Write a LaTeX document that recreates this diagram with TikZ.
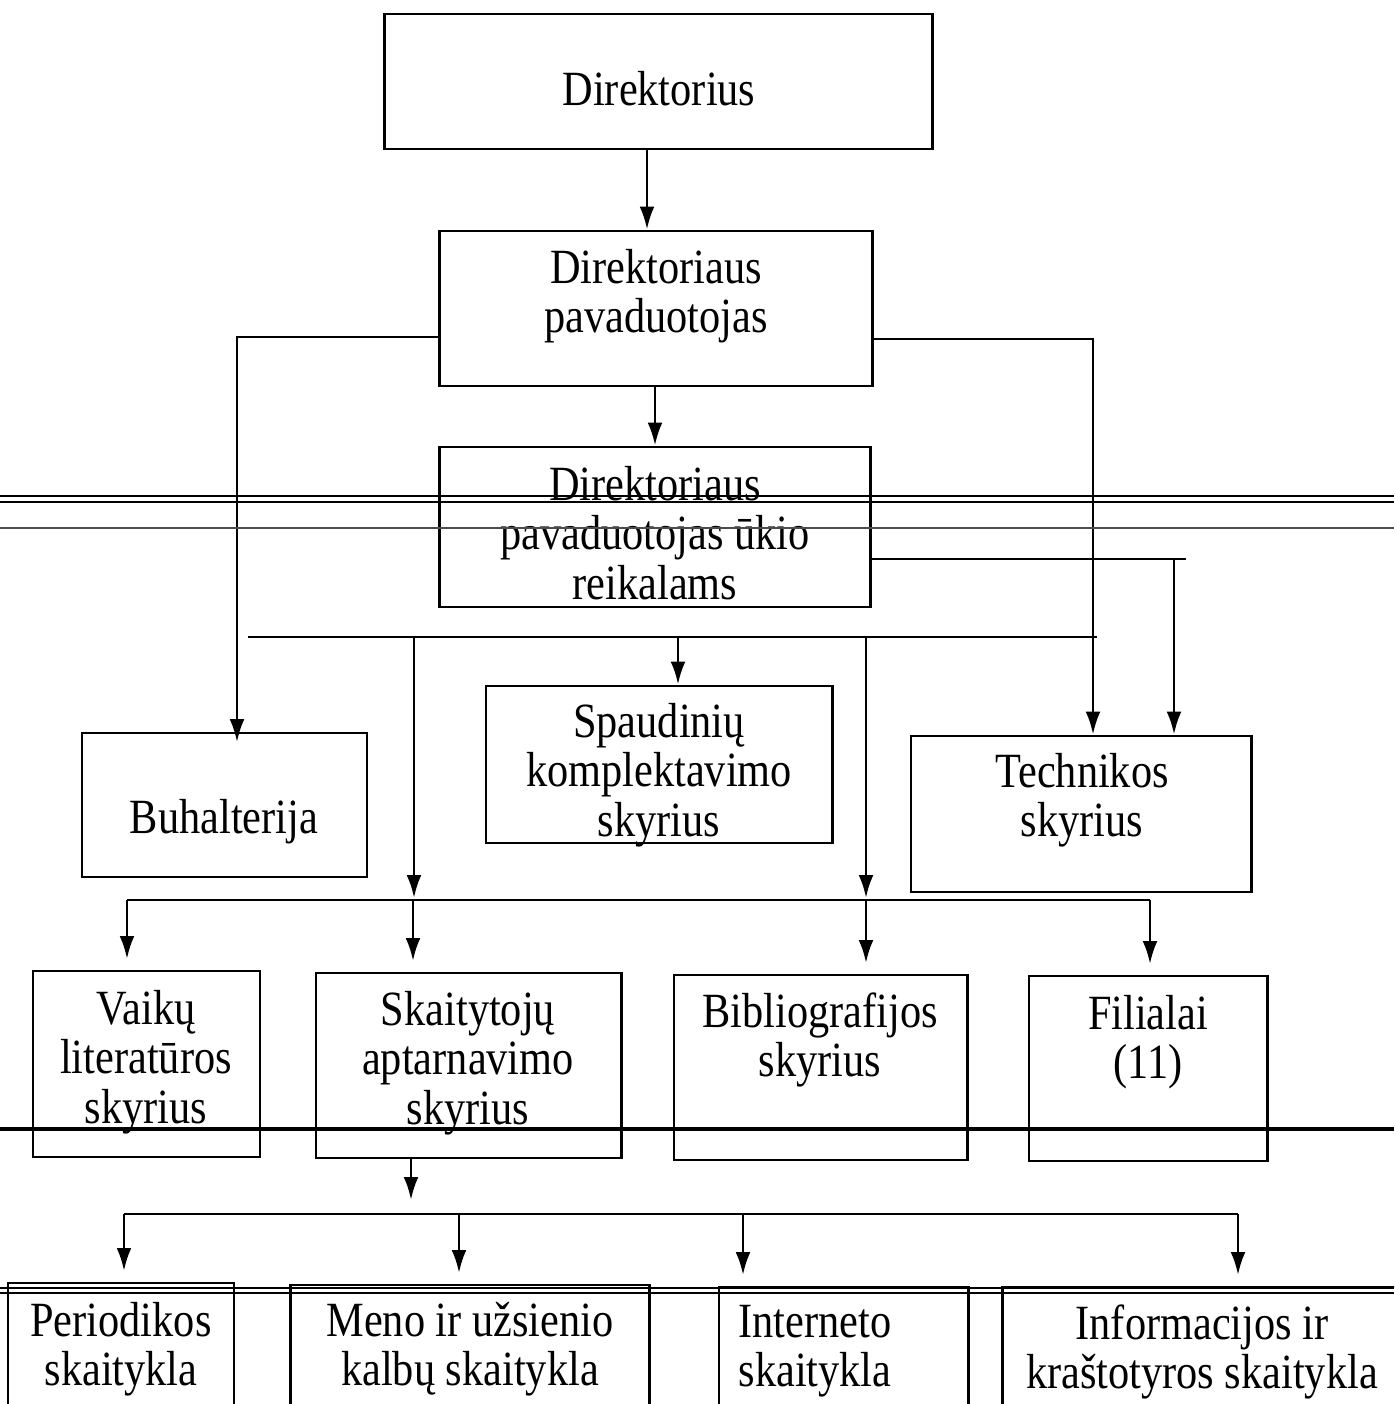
\documentclass[tikz,border=0pt]{standalone}
\usepackage{fontspec}
\setmainfont{Liberation Serif}[FakeStretch=0.86]
\usetikzlibrary{arrows.meta}
\begin{document}
\begin{tikzpicture}[x=0.01cm,y=-0.01cm,
  box/.style={draw, line width=0.8pt, inner sep=0pt},
  txt/.style={align=center, inner sep=0pt, font=\fontsize{14}{14}\selectfont},
  conn/.style={line width=0.8pt},
  arr/.style={line width=0.8pt, -{Latex[length=6.5pt,width=4.2pt]}},
  scan/.style={line width=0.6pt}]
\useasboundingbox (0,0) rectangle (1394,1404);
\clip (0,0) rectangle (1394,1404);
\fill[white] (0,0) rectangle (1394,1404);
% boxes
\node[box, minimum width=5.47cm, minimum height=1.35cm] (dir) at (658.5,81.5) {};
\node[box, minimum width=4.32cm, minimum height=1.55cm] (pav) at (656,308.5) {};
\node[box, minimum width=4.30cm, minimum height=1.60cm] (ukio) at (655,527) {};
\node[box, minimum width=2.85cm, minimum height=1.44cm] (buh) at (224.5,805) {};
\node[box, minimum width=3.46cm, minimum height=1.57cm] (spaud) at (659,764.5) {};
\node[box, minimum width=3.40cm, minimum height=1.56cm] (tech) at (1081,814) {};
\node[box, minimum width=2.27cm, minimum height=1.86cm] (vaik) at (146.5,1064) {};
\node[box, minimum width=3.05cm, minimum height=1.85cm] (skait) at (468.5,1065.5) {};
\node[box, minimum width=2.93cm, minimum height=1.85cm] (bibl) at (820.5,1067.5) {};
\node[box, minimum width=2.38cm, minimum height=1.85cm] (fil) at (1148,1068.5) {};
\node[box, minimum width=2.26cm, minimum height=1.47cm] (per) at (121,1356.5) {};
\node[box, minimum width=3.58cm, minimum height=1.45cm] (meno) at (470,1357.5) {};
\node[box, minimum width=2.49cm, minimum height=1.43cm] (int) at (843.5,1358.5) {};
\node[box, minimum width=4.07cm, minimum height=1.43cm] (info) at (1206.5,1358.5) {};
% texts
\node[txt] (dirT) at (659,89) {Direktorius};
\node[txt] (pavT) at (656,296) {Direktoriaus\\pavaduotojas};
\node[txt] (ukioT) at (655,533) {Direktoriaus\\pavaduotojas ūkio\\reikalams};
\node[txt] (buhT) at (224,822) {Buhalterija};
\node[txt] (spaudT) at (659,775) {Spaudinių\\komplektavimo\\skyrius};
\node[txt] (techT) at (1082,800) {Technikos\\skyrius};
\node[txt] (vaikT) at (146,1062) {Vaikų\\literatūros\\skyrius};
\node[txt] (skaitT) at (468,1063) {Skaitytojų\\aptarnavimo\\skyrius};
\node[txt] (biblT) at (820,1040) {Bibliografijos\\skyrius};
\node[txt] (filT) at (1148,1042) {Filialai\\(11)};
\node[txt] (perT) at (121,1349) {Periodikos\\skaitykla};
\node[txt] (menoT) at (470,1349) {Meno ir užsienio\\kalbų skaitykla};
\node[txt] (intT) at (815,1351) {Interneto\\skaitykla};
\node[txt] (infoT) at (1202,1352) {Informacijos ir\\kraštotyros skaitykla};
% bus coordinates
\coordinate (busA1) at (248,637);
\coordinate (busA2) at (1097,637);
\coordinate (busB1) at (127,900);
\coordinate (busB2) at (1150,900);
\coordinate (ukR) at (1186,559);
\coordinate (skEnd) at (411,1200);
\coordinate (busC1) at (124,1214);
\coordinate (busC2) at (1238,1214);
% connectors
\draw[arr] (dir.south -| 647,0) -- (647,0 |- pav.north);
\draw[arr] (655,0 |- pav.south) -- (655,0 |- ukio.north);
\draw[arr, shorten >=-3pt] (pav.west |- 0,337) -| (237,0 |- buh.north);
\draw[arr] (pav.east |- 0,339) -| (1093,0 |- tech.north);
\draw[conn] (ukio.east |- 0,559) -- (ukR);
\draw[arr] (1174,559) -- (1174,0 |- tech.north);
\draw[conn] (busA1) -- (busA2);
\draw[arr] (678,637) -- (678,0 |- spaud.north);
\draw[arr] (414,637) -- (414,898);
\draw[arr] (866,637) -- (866,898);
\draw[conn] (busB1) -- (busB2);
\draw[arr, shorten >=3pt] (busB1) -- (127,0 |- vaik.north);
\draw[arr, shorten >=3pt] (413,900) -- (413,0 |- skait.north);
\draw[arr, shorten >=3pt] (866,900) -- (866,0 |- bibl.north);
\draw[arr, shorten >=3pt] (busB2) -- (1150,0 |- fil.north);
\draw[arr] (411,0 |- skait.south) -- (skEnd);
\draw[conn] (busC1) -- (busC2);
\draw[arr, shorten >=3pt] (busC1) -- (124,0 |- per.north);
\draw[arr, shorten >=3pt] (459,1214) -- (459,0 |- meno.north);
\draw[arr, shorten >=3pt] (743,1214) -- (743,0 |- int.north);
\draw[arr, shorten >=3pt] (busC2) -- (1238,0 |- info.north);
% scan lines
\draw[line width=0.5pt] (0,496) -- (1394,496);
\draw[line width=0.8pt] (0,502) -- (1394,502);
\draw[line width=0.4pt, black!70] (0,528) -- (1394,528);
\draw[line width=1.2pt] (0,1129) -- (1394,1129);
\draw[line width=0.8pt] (0,1288) -- (1394,1288);
\draw[line width=0.5pt] (0,1293) -- (1394,1293);
\end{tikzpicture}
\end{document}
